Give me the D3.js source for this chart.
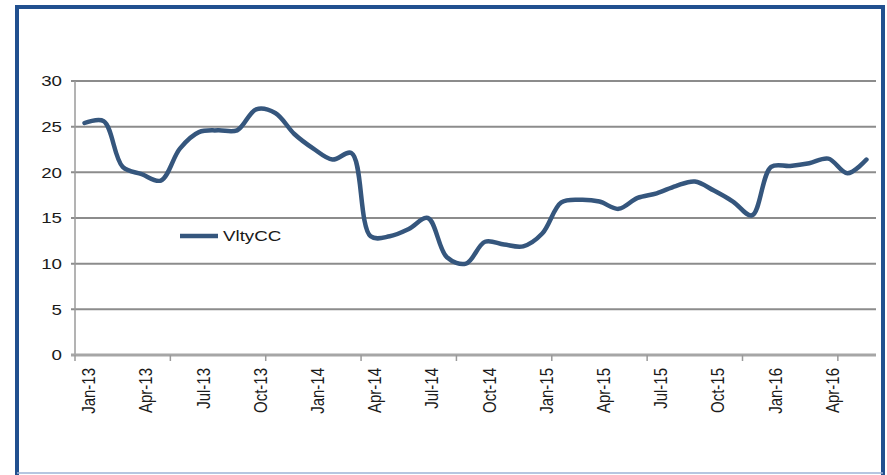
<!DOCTYPE html>
<html>
<head>
<meta charset="utf-8">
<script src="https://cdn.jsdelivr.net/npm/d3@7"></script>
<style>
  html, body { margin: 0; padding: 0; background: #fff; }
  svg { display: block; font-family: "Liberation Sans", Arial, sans-serif; }
</style>
</head>
<body>
<svg id="chart"></svg>
<script>
const width = 887;
const height = 475;

// monthly categories Jan-13 .. Jun-16
const months = ['Jan-13','Feb-13','Mar-13','Apr-13','May-13','Jun-13','Jul-13','Aug-13','Sep-13','Oct-13','Nov-13','Dec-13',
                'Jan-14','Feb-14','Mar-14','Apr-14','May-14','Jun-14','Jul-14','Aug-14','Sep-14','Oct-14','Nov-14','Dec-14',
                'Jan-15','Feb-15','Mar-15','Apr-15','May-15','Jun-15','Jul-15','Aug-15','Sep-15','Oct-15','Nov-15','Dec-15',
                'Jan-16','Feb-16','Mar-16','Apr-16','May-16','Jun-16'];
const vltyCC = [25.4, 25.6, 20.6, 19.8, 19.1, 22.6, 24.4, 24.6, 24.6, 26.9, 26.5, 24.2,
                22.6, 21.4, 22.1, 13.0, 13.0, 13.8, 15.0, 10.7, 10.0, 12.4, 12.1, 11.9,
                13.3, 16.7, 17.0, 16.8, 16.0, 17.2, 17.7, 18.5, 19.0, 18.0, 16.8, 15.3,
                20.6, 20.7, 21.0, 21.5, 19.9, 21.4];
const yTicks = [0, 5, 10, 15, 20, 25, 30];
const xLabels = ['Jan-13','Apr-13','Jul-13','Oct-13','Jan-14','Apr-14','Jul-14','Oct-14',
                 'Jan-15','Apr-15','Jul-15','Oct-15','Jan-16','Apr-16'];
const seriesName = 'VltyCC';

const lineColor = '#35567d';
const gridColor = '#8c8c8c';
const stretch = 1.25; // the picture's text is a bit wide

const svg = d3.select('#chart').attr('width', width).attr('height', height);

const x = d3.scaleBand().domain(months).range([75, 876]);
const y = d3.scaleLinear().domain([0, 30]).range([355, 81]);

// gridlines
svg.append('g').selectAll('line')
    .data(yTicks.filter(d => d > 0))
    .enter()
    .append('line')
    .attr('x1', 71).attr('x2', 876)
    .attr('y1', d => y(d)).attr('y2', d => y(d))
    .attr('stroke', gridColor)
    .attr('stroke-width', 2);

// y axis line
svg.append('line')
    .attr('x1', 75).attr('x2', 75)
    .attr('y1', y(30)).attr('y2', y(0))
    .attr('stroke', '#9a9a9a')
    .attr('stroke-width', 1.5);

// x axis line + ticks every 5 categories
svg.append('line')
    .attr('x1', 71).attr('x2', 876)
    .attr('y1', y(0)).attr('y2', y(0))
    .attr('stroke', '#a6a6a6')
    .attr('stroke-width', 3);

svg.append('g').selectAll('line')
    .data(months.filter((d, i) => i % 5 === 0))
    .enter()
    .append('line')
    .attr('x1', d => x(d)).attr('x2', d => x(d))
    .attr('y1', y(0)).attr('y2', y(0) + 6)
    .attr('stroke', '#9a9a9a')
    .attr('stroke-width', 1.5);

// y labels
svg.append('g').selectAll('text')
    .data(yTicks)
    .enter()
    .append('text')
    .attr('transform', d => `translate(62, ${y(d)}) scale(${stretch}, 1)`)
    .attr('dy', '0.35em')
    .attr('text-anchor', 'end')
    .attr('font-size', 15)
    .attr('fill', '#1a1a1a')
    .text(d => d);

// x labels, rotated
svg.append('g').selectAll('text')
    .data(xLabels)
    .enter()
    .append('text')
    .attr('transform', d => `translate(${x(d) + x.bandwidth() / 2 + 4}, 368) scale(${stretch}, 1) rotate(-90)`)
    .attr('dy', '0.35em')
    .attr('text-anchor', 'end')
    .attr('font-size', 15)
    .attr('fill', '#1a1a1a')
    .text(d => d);

// series line, smoothed
const line = d3.line()
    .x((d, i) => x(months[i]) + x.bandwidth() / 2)
    .y(d => y(d))
    .curve(d3.curveCatmullRom);

svg.append('path')
    .datum(vltyCC)
    .attr('d', line)
    .attr('fill', 'none')
    .attr('stroke', lineColor)
    .attr('stroke-width', 4.5)
    .attr('stroke-linejoin', 'round')
    .attr('stroke-linecap', 'round');

// legend
svg.append('line')
    .attr('x1', 180).attr('x2', 218)
    .attr('y1', 236).attr('y2', 236)
    .attr('stroke', lineColor)
    .attr('stroke-width', 4.5);

svg.append('text')
    .attr('transform', `translate(223, 236) scale(${stretch}, 1)`)
    .attr('dy', '0.35em')
    .attr('font-size', 15)
    .attr('fill', '#1a1a1a')
    .text(seriesName);

// frame
svg.append('path')
    .attr('d', 'M17,475 L17,7 L883,7 L883,475')
    .attr('fill', 'none')
    .attr('stroke', '#21508f')
    .attr('stroke-width', 4);
svg.append('line')
    .attr('x1', 17).attr('x2', 883)
    .attr('y1', 473).attr('y2', 473)
    .attr('stroke', '#9db3d6')
    .attr('stroke-width', 1.5);
</script>
</body>
</html>
